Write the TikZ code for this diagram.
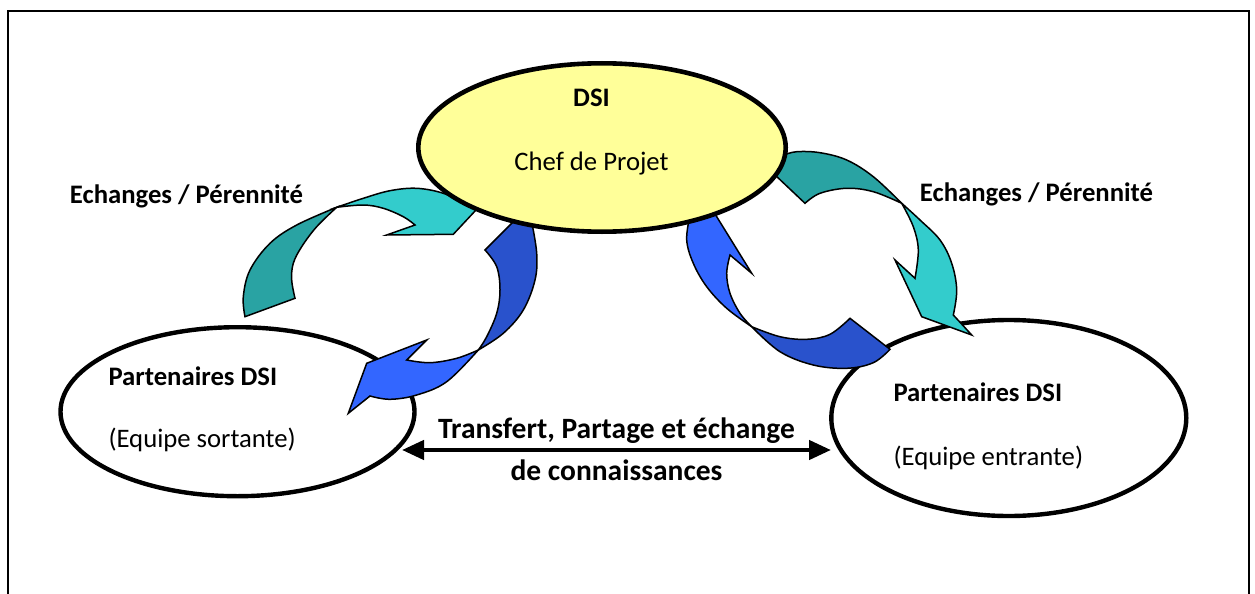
\documentclass[tikz,border=0pt]{standalone}
\usepackage{fontspec}
\setmainfont{Carlito}
\usetikzlibrary{shapes.geometric,arrows.meta}
\definecolor{tealD}{RGB}{41,163,163}
\definecolor{tealL}{RGB}{51,204,204}
\definecolor{blueD}{RGB}{41,82,204}
\definecolor{blueL}{RGB}{51,102,255}
\definecolor{dsiYel}{RGB}{255,255,153}
\tikzset{
  oval/.style={ellipse, draw=black, line width=4.4pt, fill=white, inner sep=0pt},
  ribbon/.style={draw=black, line width=1.5pt, line join=miter},
  lbl/.style={inner sep=0pt, font=\fontsize{26.7}{31}\selectfont},
  blbl/.style={lbl, font=\fontsize{26.7}{31}\selectfont\bfseries},
  bigbl/.style={lbl, font=\fontsize{29.5}{35}\selectfont\bfseries},
  dbl/.style={line width=4.4pt, {Triangle[length=22pt,width=19pt]}-{Triangle[length=22pt,width=19pt]}},
  sm/.style={smooth, tension=0.6}
}
\begin{document}
\begin{tikzpicture}[x=1pt,y=-1pt]
\useasboundingbox (0,0) rectangle (1255,594);
\clip (0,0) rectangle (1255,594);
\fill[white] (0,0) rectangle (1255,594);
\draw[line width=2pt] (8,11) rectangle (1249,650);
% side ellipses
\node[oval, minimum width=354pt, minimum height=169pt] (Lell) at (237.5,411.7) {};
\node[oval, minimum width=355pt, minimum height=196pt] (Rell) at (1008.8,418) {};
% left cycle
\filldraw[ribbon, fill=tealD] plot[sm] coordinates {(245,316.7) (243.3,296.7) (250,270) (270,243.3) (296.7,225) (336.7,207.3)}
  -- plot[sm] coordinates {(336.7,207.3) (316.7,226.7) (301.7,246.7) (293.3,263.3) (291.7,280) (295,298.3)} -- cycle;
\filldraw[ribbon, fill=tealL] plot[sm] coordinates {(336.7,207.3) (363.3,198.3) (390,190.7) (416.7,188.3) (443.3,193.3) (463.3,203.3) (476,210)}
  -- (453.3,234.3) -- (386.7,235) -- (415,225)
  -- plot[sm] coordinates {(415,225) (403.3,216.7) (383.3,208.3) (363.3,205) (336.7,207.3)} -- cycle;
\filldraw[ribbon, fill=blueD] (485,250) -- (516,219) -- plot[sm] coordinates {(531.7,222) (536.7,253.3) (535,280) (523.3,310) (503.3,333.3) (478.3,350)}
  -- plot[sm] coordinates {(478.3,350) (486.7,336.7) (496.7,313.3) (500,290) (496.7,266.7) (485,250)} -- cycle;
\filldraw[ribbon, fill=blueL] plot[sm] coordinates {(478.3,350) (446.7,381.7) (416.7,395) (390,399.3) (370,396)}
  -- (348.3,413.3) -- (366.7,363.3) -- (426.7,340) -- (406.7,360)
  -- plot[sm] coordinates {(406.7,360) (430,362.7) (456.7,358.3) (478.3,350)} -- cycle;
% right cycle
\filldraw[ribbon, fill=tealD] (805,203.3) -- (774,174) -- plot[sm] coordinates {(784,155) (796.7,151.7) (820,152.7) (846.7,160) (873.3,176.7) (901.7,203.3)}
  -- plot[sm] coordinates {(901.7,203.3) (873.3,191.7) (846.7,188.3) (820,193.3) (805,203.3)} -- cycle;
\filldraw[ribbon, fill=tealL] plot[sm] coordinates {(901.7,203.3) (920,220) (940,240) (951.7,263.3) (956.7,290) (953.3,315)}
  -- (971.7,335) -- (921.7,316.7) -- (895,260) -- (915,278.3)
  -- plot[sm] coordinates {(915,278.3) (918.3,250) (913.3,226.7) (901.7,203.3)} -- cycle;
\filldraw[ribbon, fill=blueL] plot[sm] coordinates {(690,215) (686.7,240) (693.3,263.3) (706.7,286.7) (726.7,308.3) (751.7,326.7)}
  -- plot[sm] coordinates {(751.7,326.7) (740,313.3) (730,293.3) (726.7,273.3) (730,255)}
  -- (751.7,273.3) -- (716.7,216.7) -- (708,203) -- (690,210) -- cycle;
\filldraw[ribbon, fill=blueD] plot[sm] coordinates {(751.7,326.7) (780,336.7) (806.7,339.3) (830,334.3) (850,318.3)}
  -- (890,349.3)
  -- plot[sm] coordinates {(890,349.3) (873.3,362.7) (846.7,368.3) (813.3,365) (780,351.7) (751.7,326.7)} -- cycle;
% top ellipse
\node[oval, fill=dsiYel, line width=4.6pt, minimum width=367.4pt, minimum height=168.4pt] (Tell) at (602,147.5) {};
% texts
\node[blbl, anchor=base] (tDSI) at (591.5,106.7) {DSI};
\node[lbl, anchor=base] (tChef) at (591.5,170) {Chef de Projet};
\node[blbl, anchor=base] (tEchL) at (186.5,203) {Echanges / Pérennité};
\node[blbl, anchor=base] (tEchR) at (1036.5,201) {Echanges / Pérennité};
\node[blbl, anchor=base west] (tPL) at (108.3,385) {Partenaires DSI};
\node[lbl, anchor=base west] (tEqL) at (108.3,447) {(Equipe sortante)};
\node[blbl, anchor=base west] (tPR) at (893.3,401.7) {Partenaires DSI};
\node[lbl, anchor=base west] (tEqR) at (893.3,465) {(Equipe entrante)};
\node[bigbl, anchor=base] (tTr1) at (616.5,438.3) {Transfert, Partage et échange};
\node[bigbl, anchor=base] (tTr2) at (616.5,480) {de connaissances};
% double arrow
\coordinate (ta) at (402,450);
\coordinate (tb) at (831,450);
\draw[dbl] (ta) -- (tb);
\end{tikzpicture}
\end{document}
